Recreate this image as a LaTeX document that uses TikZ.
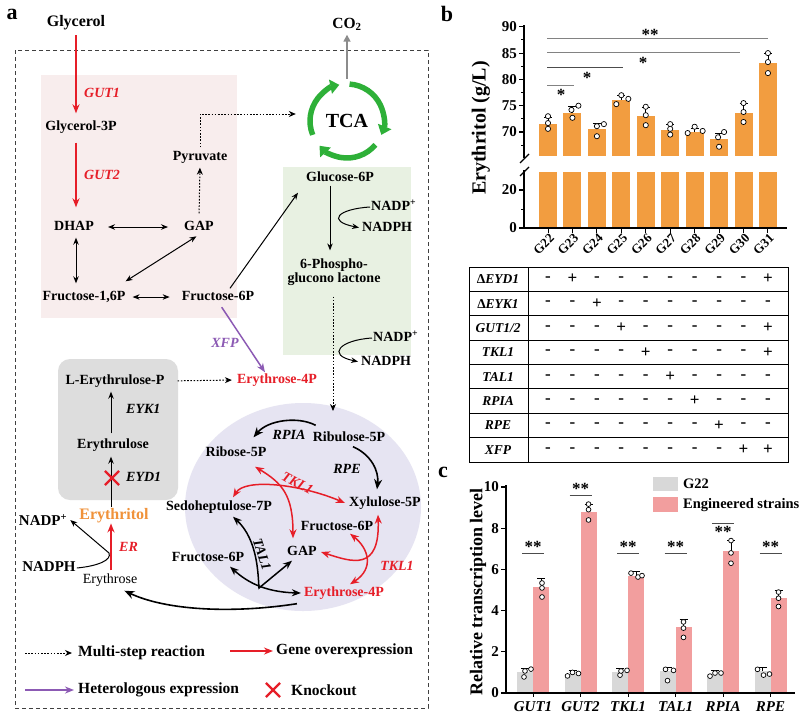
\documentclass[tikz,border=0pt]{standalone}
\usepackage{fontspec}
\setmainfont{Liberation Serif}
\usetikzlibrary{arrows.meta,shapes.geometric,shapes.misc}
\newcommand\myfs[1]{\fontsize{#1}{#1}\selectfont}
\definecolor{rd}{RGB}{230,30,40}
\definecolor{pu}{RGB}{140,90,180}
\definecolor{eryorange}{RGB}{240,146,58}
\definecolor{pinkbg}{RGB}{248,237,237}
\definecolor{greenbg}{RGB}{232,241,226}
\definecolor{graybg}{RGB}{221,221,221}
\definecolor{lav}{RGB}{230,228,242}
\definecolor{tcag}{RGB}{46,176,56}
\definecolor{barorange}{RGB}{242,157,64}
\definecolor{barpink}{RGB}{242,158,158}
\definecolor{bargray}{RGB}{216,216,216}
\definecolor{siggray}{RGB}{130,130,130}
\tikzset{
 lbl/.style={font=\myfs{14}\bfseries, inner sep=1pt, text height=10pt, text depth=3pt},
 lbltwo/.style={font=\myfs{14}\bfseries, inner sep=1pt, align=center},
 gn/.style={font=\myfs{14}\bfseries\itshape, inner sep=1pt, text height=10pt, text depth=3pt},
 lgd/.style={font=\myfs{15.5}\bfseries, inner sep=1pt},
 ab/.style={line width=1pt, -{Stealth[length=7pt,width=5.5pt]}},
 abb/.style={line width=1pt, {Stealth[length=7pt,width=5.5pt]}-{Stealth[length=7pt,width=5.5pt]}},
 cab/.style={line width=1.6pt, -{Stealth[length=10pt,width=8pt]}},
 cabb/.style={line width=1.5pt, {Stealth[length=9pt,width=7pt]}-{Stealth[length=9pt,width=7pt]}},
 dotarr/.style={line width=1pt, dash pattern=on 1.6pt off 1.6pt, -{Stealth[length=7pt,width=6pt]}},
 redarr/.style={draw=rd, line width=1.5pt, -{Stealth[length=9pt,width=7pt]}},
 redarrb/.style={draw=rd, line width=1.5pt, {Stealth[length=9pt,width=7pt]}-{Stealth[length=9pt,width=7pt]}},
 purarr/.style={draw=pu, line width=1.5pt, -{Stealth[length=9pt,width=7pt]}},
 tcaarr/.style={draw=tcag, line width=5.5pt, -{Triangle[length=9pt,width=14pt]}},
 xmark/.style={cross out, draw=rd, line width=2.2pt, minimum size=12pt, inner sep=0pt},
 panel/.style={font=\myfs{22}\bfseries, inner sep=0pt},
 axisl/.style={line width=1.3pt},
 tickl/.style={font=\myfs{15}\bfseries, inner sep=1pt},
 sigl/.style={draw=siggray, line width=1pt},
 star/.style={font=\myfs{17}\bfseries, inner sep=0pt},
 tbl/.style={font=\myfs{13.5}\bfseries, inner sep=0pt},
 pm/.style={font=\myfs{17}\bfseries, inner sep=0pt},
 dot/.style={draw=black, fill=white, line width=0.7pt},
}
\begin{document}
\begin{tikzpicture}[x=1pt,y=-1pt]
\useasboundingbox (0,0) rectangle (800,715);
\fill[white] (0,0) rectangle (800,715);

%%%%%%%%%%%%%%%% panel a %%%%%%%%%%%%%%%%
\fill[pinkbg] (41,75) rectangle (237,318);
\fill[greenbg] (283,167) rectangle (411,355);
\fill[graybg, rounded corners=12pt] (58,359) rectangle (178,500);
\node[ellipse, fill=lav, minimum width=236pt, minimum height=208pt, inner sep=0pt] (ppp) at (303,507) {};
\draw[black!75, line width=0.9pt, dash pattern=on 4pt off 3pt] (15,50) rectangle (428,708);

\node[panel] (la) at (12,14) {a};

\node[lbl, font=\myfs{16}\bfseries, text height=11.5pt] (glycerol) at (76,22) {Glycerol};
\node[lbl, font=\myfs{15.5}\bfseries] (co2) at (347,25) {CO\textsubscript{2}};
\node[lbl] (g3p) at (81,127) {Glycerol-3P};
\node[lbl] (dhap) at (74,227) {DHAP};
\node[lbl] (gap1) at (199,227) {GAP};
\node[lbl] (pyr) at (200,157) {Pyruvate};
\node[lbl] (f16p) at (84,297) {Fructose-1,6P};
\node[lbl] (f6p1) at (218,297) {Fructose-6P};
\node[circle, minimum size=74pt, inner sep=0pt, font=\myfs{20}\bfseries] (tca) at (347,121) {TCA};
\node[lbl] (g6p) at (340,178) {Glucose-6P};
\node[lbltwo] (pgl) at (334,272) {6-Phospho-\\glucono lactone};
\node[lbl, anchor=west] (nadp1) at (370,207) {NADP\textsuperscript{+}};
\node[lbl, anchor=west] (nadph1) at (361,228) {NADPH};
\node[lbl, anchor=west] (nadp2) at (372,338) {NADP\textsuperscript{+}};
\node[lbl, anchor=west] (nadph2) at (360,362) {NADPH};
\node[lbl, text=rd] (e4p1) at (277,380) {Erythrose-4P};
\node[lbl] (lerp) at (115,381) {L-Erythrulose-P};
\node[lbl] (eryl) at (113,445) {Erythrulose};
\node[lbl, font=\myfs{16}\bfseries, text=eryorange, text height=11.5pt] (eryt) at (114,515) {Erythritol};
\node[lbl, font=\myfs{14}] (erys) at (110,580) {Erythrose};
\node[lbl, font=\myfs{15}\bfseries] (nadph3) at (49,568) {NADPH};
\node[lbl, font=\myfs{15}\bfseries] (nadp3) at (43,522) {NADP\textsuperscript{+}};
\node[lbl] (r5p) at (236,453) {Ribose-5P};
\node[lbl] (ru5p) at (349,438) {Ribulose-5P};
\node[lbl] (s7p) at (219,507) {Sedoheptulose-7P};
\node[lbl] (x5p) at (385,503) {Xylulose-5P};
\node[lbl] (f6p2) at (337,527) {Fructose-6P};
\node[lbl] (gap2) at (302,552) {GAP};
\node[lbl] (f6p3) at (208,558) {Fructose-6P};
\node[lbl, text=rd] (e4p2) at (344,593) {Erythrose-4P};

% gene labels
\node[gn, text=rd, anchor=west] (gut1) at (83,94) {GUT1};
\node[gn, text=rd, anchor=west] (gut2) at (83,176) {GUT2};
\node[gn, text=pu] (xfp) at (225,344) {XFP};
\node[gn, anchor=west] (eyk1) at (125,410) {EYK1};
\node[gn, anchor=west] (eyd1) at (125,478) {EYD1};
\node[gn, text=rd, anchor=west] (er) at (118,548) {ER};
\node[gn] (rpia) at (289,436) {RPIA};
\node[gn] (rpe) at (347,470) {RPE};
\node[gn, text=rd, rotate=-28] (tkla) at (297,484) {TKL1};
\node[gn, text=rd] (tklb) at (397,567) {TKL1};
\node[gn, rotate=-72] (tal1) at (261,555) {TAL1};

% TCA cycle
\draw[tcaarr] (tca.center) ++(-86:37) arc (-86:22:37);
\draw[tcaarr] (tca.center) ++(40:37) arc (40:138:37);
\draw[tcaarr] (tca.center) ++(158:37) arc (158:258:37);
\draw[draw=black!45, line width=1.6pt, -{Triangle[length=7pt,width=7pt]}, shorten >=2pt] ([yshift=5pt]tca.north) -- (co2.south);

% glycolysis part
\draw[redarr, shorten <=5pt, shorten >=6pt] (glycerol.south) -- (glycerol.south |- g3p.north);
\draw[redarr, shorten <=8pt, shorten >=12pt] (glycerol.south |- g3p.south) -- (glycerol.south |- dhap.north);
\draw[abb, shorten <=13pt, shorten >=15pt] (dhap.east) -- (gap1.west);
\draw[dotarr, shorten <=6pt, shorten >=3pt] (gap1.north) -- (pyr.south);
\draw[dotarr, shorten <=2pt] (pyr.north) |- ([xshift=-14pt,yshift=7pt]tca.west);
\draw[abb, shorten <=3pt, shorten >=6pt] (glycerol.south |- dhap.south) -- (glycerol.south |- f16p.north);
\draw[abb, shorten <=6pt, shorten >=11pt] (f16p.east) -- (f6p1.west);
\draw[abb, shorten >=3pt] ([xshift=-1pt,yshift=8pt]f16p.north east) -- (gap1.south);
\draw[ab] ([xshift=12pt,yshift=1pt]f6p1.north) -- ([xshift=-7pt,yshift=-7pt]g6p.south west);
\draw[purarr, shorten <=3pt] ([xshift=2pt]f6p1.south) -- ([xshift=-12pt]e4p1.north);

% oxidative PPP
\draw[ab] ([xshift=-10pt]g6p.south) -- ([xshift=-4pt,yshift=7pt]pgl.north);
\draw[ab, shorten >=2pt] (nadp1.west) .. controls (338,209) and (326,221) .. (nadph1.west);
\coordinate (pppin) at (333,411);
\draw[dotarr, shorten <=10pt] ([xshift=-1pt]pgl.south) -- (pppin);
\draw[ab, shorten >=2pt] (nadp2.west) .. controls (340,340) and (326,355) .. (nadph2.west);

% erythritol part
\draw[dotarr, shorten <=12pt, shorten >=4pt] (lerp.east) -- (e4p1.west);
\draw[ab, shorten <=4pt, shorten >=3pt] ([xshift=-2pt]eryl.north) -- ([xshift=-2pt]eryl.north |- lerp.south);
\draw[ab, shorten >=4pt] ([xshift=-3pt]eryt.north) -- ([xshift=-3pt]eryt.north |- eryl.south);
\node[xmark] (ko1) at (112,478) {};
\draw[redarr, shorten <=2pt] ([xshift=1pt]erys.north) -- ([xshift=1pt]erys.north |- eryt.south);
\draw[ab] (nadph3.east) .. controls (98,566) and (112,560) .. (109,553) -- ([xshift=2pt,yshift=2pt]nadp3.east);

% non-oxidative PPP
\draw[cab] ([xshift=4pt,yshift=5pt]ru5p.north west) .. controls (298,416) and (268,420) .. ([xshift=-14pt,yshift=8pt]r5p.north east);
\draw[cab] ([xshift=4pt,yshift=-1pt]ru5p.south) .. controls (372,455) and (379,472) .. ([xshift=-8pt,yshift=6pt]x5p.north);
\draw[redarrb] ([xshift=19pt,yshift=-6pt]r5p.south) .. controls (282,483) and (293,495) .. ([xshift=-9pt,yshift=6pt]gap2.north);
\draw[redarrb] ([xshift=14pt,yshift=2pt]s7p.north) .. controls (245,478) and (300,484) .. ([xshift=-3pt]x5p.west);
\draw[redarrb] ([xshift=3pt]gap2.east) .. controls (352,562) and (380,572) .. ([xshift=-7pt,yshift=-4pt]x5p.south);
\draw[redarrb] ([xshift=13pt,yshift=1pt]f6p2.south) .. controls (368,548) and (375,568) .. ([xshift=6pt,yshift=1pt]e4p2.north);
\draw[cabb] ([xshift=14pt,yshift=-2pt]s7p.south) .. controls (258,540) and (258,575) .. (259,588) -- ([xshift=6pt,yshift=-1pt]gap2.south west);
\draw[cabb] ([xshift=22pt,yshift=-1pt]f6p3.south) .. controls (245,580) and (262,592) .. ([xshift=-2pt]e4p2.west);
\draw[cab] ([xshift=-6pt,yshift=-3pt]e4p2.south west) .. controls (230,614) and (165,610) .. ([xshift=-14pt,yshift=-3pt]erys.south east);

% legend
\coordinate (lgs1) at (25,653);
\node[lgd, anchor=west] (lg1) at (77,653) {Multi-step reaction};
\draw[dotarr, shorten >=5pt] (lgs1) -- (lg1.west);
\coordinate (lgs2) at (230,651);
\node[lgd, anchor=west] (lg2) at (275,651) {Gene overexpression};
\draw[redarr, shorten >=2pt] (lgs2) -- (lg2.west);
\coordinate (lgs3) at (25,690);
\node[lgd, anchor=west] (lg3) at (77,690) {Heterologous expression};
\draw[purarr, shorten >=3pt] (lgs3) -- (lg3.west);
\node[xmark] (lgx) at (273,690) {};
\node[lgd, anchor=west] (lg4) at (290,690) {Knockout};

%%%%%%%%%%%%%%%% panel b %%%%%%%%%%%%%%%%
\node[panel] (lb) at (447,14) {b};
\node[rotate=90, font=\myfs{20}\bfseries] (ylb) at (481,128) {Erythritol (g/L)};
\foreach \i/\m/\s in {0/71.6/1.1, 1/73.7/1.2, 2/70.5/1.2, 3/76.1/0.8, 4/73.0/1.7, 5/70.4/1.0, 6/70.0/0.6, 7/68.7/1.1, 8/73.6/1.8, 9/83.1/1.9} {
  \pgfmathsetmacro\xc{548+24.44*\i}
  \pgfmathsetmacro\yt{132-(\m-70)*5.26}
  \pgfmathsetmacro\ye{132-(\m+\s-70)*5.26}
  \pgfmathtruncatemacro\g{22+\i}
  \fill[barorange] (\xc-9,156) rectangle (\xc+9,\yt);
  \fill[barorange] (\xc-9,172) rectangle (\xc+9,228);
  \draw[line width=0.8pt] (\xc,\yt) -- (\xc,\ye) (\xc-4,\ye) -- (\xc+4,\ye);
  \draw[line width=1pt] (\xc,228) -- (\xc,233);
  \node[font=\myfs{13}\bfseries, rotate=45, anchor=east, inner sep=0pt] (gx\i) at (\xc+4,236) {G\g};
}
\foreach \i/\dx/\v in {0/0/73.0, 0/0/71.7, 0/0/70.6, 1/-1/74.2, 1/6/75.0, 1/0/72.7, 2/0/71.1, 2/7/71.5, 2/0/69.2, 3/-5/75.3, 3/0/77.0, 3/7/76.3, 4/0/74.8, 4/0/73.2, 4/0/71.3, 5/0/71.5, 5/0/70.6, 5/0/69.5, 6/-7/69.8, 6/0/71.0, 6/8/70.2, 7/0/67.2, 7/-1/69.0, 7/5/70.0, 8/0/75.5, 8/0/73.8, 8/0/71.9, 9/0/85.0, 9/0/83.3, 9/0/81.2} {
  \draw[dot] ({548+24.44*\i+\dx},{132-(\v-70)*5.26}) circle (2.6);
}
\draw[axisl] (524,25) -- (524,158);
\draw[axisl] (524,170) -- (524,228) -- (787,228);
\draw[line width=1.2pt] (520,163) -- (529,154);
\draw[line width=1.2pt] (520,176) -- (529,167);
\foreach \v in {90,85,80,75,70} {
  \pgfmathsetmacro\yy{132-(\v-70)*5.26}
  \draw[line width=1.2pt] (519,\yy) -- (524,\yy);
  \node[tickl, anchor=east] (yt\v) at (518,\yy) {\v};
}
\foreach \v in {87.5,82.5,77.5,72.5,67.5} {
  \pgfmathsetmacro\yy{132-(\v-70)*5.26}
  \draw[line width=1pt] (521,\yy) -- (524,\yy);
}
\draw[line width=1.2pt] (519,228) -- (524,228);
\draw[line width=1.2pt] (519,190) -- (524,190);
\draw[line width=1pt] (521,209) -- (524,209);
\node[tickl, anchor=east] (yt0) at (518,228) {0};
\node[tickl, anchor=east] (yt20) at (518,190) {20};
% significance
\draw[sigl] (547,38) -- (768,38);
\node[star] (s1) at (650,35) {**};
\draw[sigl] (547,52) -- (740,52);
\node[star] (s2) at (643,63) {*};
\draw[sigl, draw=black!70] (547,67) -- (623,67);
\node[star] (s3) at (587,78) {*};
\draw[sigl] (547,85) -- (574,85);
\node[star] (s4) at (561,95) {*};
% table
\draw[line width=1pt] (469,267) rectangle (788,462);
\draw[line width=1pt] (528,267) -- (528,462);
\foreach \k in {1,...,7} { \draw[line width=0.9pt] (469,{267+24.375*\k}) -- (788,{267+24.375*\k}); }
\foreach \k/\t/\r in {0/{Δ\textit{EYD1}}/{0,1,0,0,0,0,0,0,0,1}, 1/{Δ\textit{EYK1}}/{0,0,1,0,0,0,0,0,0,0}, 2/{\textit{GUT1/2}}/{0,0,0,1,0,0,0,0,0,1}, 3/{\textit{TKL1}}/{0,0,0,0,1,0,0,0,0,1}, 4/{\textit{TAL1}}/{0,0,0,0,0,1,0,0,0,0}, 5/{\textit{RPIA}}/{0,0,0,0,0,0,1,0,0,0}, 6/{\textit{RPE}}/{0,0,0,0,0,0,0,1,0,0}, 7/{\textit{XFP}}/{0,0,0,0,0,0,0,0,1,1}} {
  \pgfmathsetmacro\yr{267+24.375*(\k+0.5)}
  \node[tbl] (row\k) at (498,\yr) {\t};
  \foreach \v [count=\c from 0] in \r {
    \node[pm] (pm\k-\c) at ({548+24.44*\c},\yr) {\ifnum\v=1 +\else -\fi};
  }
}

%%%%%%%%%%%%%%%% panel c %%%%%%%%%%%%%%%%
\node[panel] (lc) at (443,472) {c};
\node[rotate=90, font=\myfs{18}\bfseries] (ylc) at (478,592) {Relative transcription level};
\foreach \i/\gv/\pv/\ps/\gn in {0/1.0/5.15/0.4/GUT1, 1/0.9/8.8/0.35/GUT2, 2/1.0/5.7/0.2/TKL1, 3/1.05/3.2/0.35/TAL1, 4/0.9/6.9/0.5/RPIA, 5/1.05/4.6/0.4/RPE} {
  \pgfmathsetmacro\xc{533+47.5*\i}
  \pgfmathsetmacro\ygt{693-20.6*\gv}
  \pgfmathsetmacro\ypt{693-20.6*\pv}
  \pgfmathsetmacro\ype{693-20.6*(\pv+\ps)}
  \pgfmathsetmacro\yge{693-20.6*(\gv+0.2)}
  \fill[bargray] (\xc-16,693) rectangle (\xc,\ygt);
  \fill[barpink] (\xc,693) rectangle (\xc+16,\ypt);
  \draw[line width=0.8pt] (\xc+8,\ypt) -- (\xc+8,\ype) (\xc+4,\ype) -- (\xc+12,\ype);
  \draw[line width=0.8pt] (\xc-8,\ygt) -- (\xc-8,\yge) (\xc-12,\yge) -- (\xc-4,\yge);
  \draw[line width=1pt] (\xc,693) -- (\xc,697);
  \node[font=\myfs{15}\bfseries\itshape, inner sep=0pt] (cx\i) at (\xc,707) {\gn};
}
\foreach \i/\dx/\v in {0/-9/0.78, 0/-8/1.07, 0/-2/1.16, 1/-13/0.83, 1/-8/1.0, 1/-2/0.95, 2/-8/0.87, 2/-7/1.07, 2/-1/1.1, 3/-8/0.6, 3/-10/1.15, 3/-2/1.1, 4/-13/0.82, 4/-8/0.97, 4/-2/0.97, 5/-13/1.15, 5/-7/0.87, 5/-1/0.92,
  0/9/5.34, 0/9/5.1, 0/9/4.66, 1/8/9.17, 1/8/8.9, 1/8/8.4, 2/3/5.82, 2/10/5.63, 2/14/5.7, 3/8/3.45, 3/8/3.15, 3/8/2.7, 4/8/7.4, 4/8/6.8, 4/8/6.3, 5/8/4.9, 5/8/4.6, 5/8/4.2} {
  \draw[dot] ({533+47.5*\i+\dx},{693-20.6*\v}) circle (2.4);
}
\draw[axisl] (506,485) -- (506,693) -- (795,693);
\foreach \v in {0,2,4,6,8,10} {
  \pgfmathsetmacro\yy{693-20.6*\v}
  \draw[line width=1.2pt] (501,\yy) -- (506,\yy);
  \node[tickl, anchor=east] (ct\v) at (500,\yy) {\v};
}
% significance c
\foreach \i/\ys in {0/547, 2/547, 3/547, 5/547, 1/489} {
  \pgfmathsetmacro\xc{533+47.5*\i}
  \node[star] (cs\i) at (\xc,\ys) {**};
  \draw[sigl, draw=black!70] (\xc-11,\ys+6) -- (\xc+11,\ys+6);
}
\node[star] (cs4) at (723,532) {**};
\draw[sigl, draw=black!70] (712,523) -- (734,523);
% legend c
\fill[bargray] (653,477) rectangle (678,491);
\node[font=\myfs{14.5}\bfseries, anchor=west, inner sep=0pt] (lgc1) at (683,484) {G22};
\fill[barpink] (653,497) rectangle (678,512);
\node[font=\myfs{14.5}\bfseries, anchor=west, inner sep=0pt] (lgc2) at (683,505) {Engineered strains};
\end{tikzpicture}
\end{document}
